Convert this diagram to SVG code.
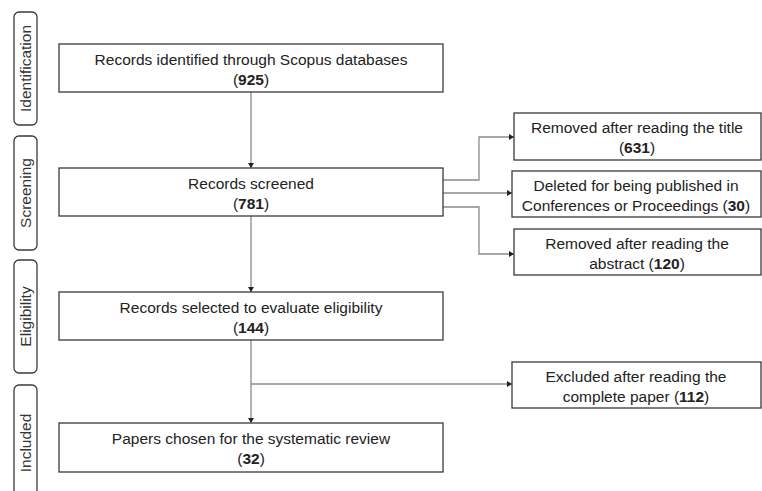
<svg xmlns="http://www.w3.org/2000/svg" width="762" height="491" viewBox="0 0 762 491">
<style>
.box{fill:#fff;stroke:#3a3a3a;stroke-width:1.3}
.side{fill:#fff;stroke:#3a3a3a;stroke-width:1.3}
.t{font-family:"Liberation Sans",Arial,sans-serif;font-size:15.5px;fill:#222;text-anchor:middle}
.st{font-family:"Liberation Sans",Arial,sans-serif;font-size:15.5px;fill:#333;text-anchor:middle}
.c{fill:none;stroke:#8a8a8a;stroke-width:1.3}
</style>
<defs>
<marker id="ah" markerWidth="6" markerHeight="6" refX="5" refY="3" orient="auto" markerUnits="userSpaceOnUse">
<path d="M0,0 L5,3 L0,6 Z" fill="#222"/>
</marker>
</defs>
<g id="phase-identification">
<rect class="side" x="14" y="12" width="23" height="113" rx="5"/>
<text class="st" transform="translate(31,68.5) rotate(-90)">Identification</text>
</g>
<g id="phase-screening">
<rect class="side" x="14" y="136" width="23" height="114" rx="5"/>
<text class="st" transform="translate(31,193) rotate(-90)">Screening</text>
</g>
<g id="phase-eligibility">
<rect class="side" x="14" y="260" width="23" height="113" rx="5"/>
<text class="st" transform="translate(31,316.5) rotate(-90)">Eligibility</text>
</g>
<g id="phase-included">
<rect class="side" x="14" y="385" width="23" height="120" rx="5"/>
<text class="st" transform="translate(31,443) rotate(-90)">Included</text>
</g>
<g id="connectors">
<line class="c" x1="251" y1="92" x2="251" y2="168" marker-end="url(#ah)"/>
<line class="c" x1="251" y1="216" x2="251" y2="292" marker-end="url(#ah)"/>
<line class="c" x1="251" y1="340" x2="251" y2="423" marker-end="url(#ah)"/>
<polyline class="c" points="443,180 479,180 479,137 514,137" marker-end="url(#ah)"/>
<line class="c" x1="443" y1="193" x2="512" y2="193" marker-end="url(#ah)"/>
<polyline class="c" points="443,207 479,207 479,254 514,254" marker-end="url(#ah)"/>
<line class="c" x1="251" y1="384" x2="512" y2="384" marker-end="url(#ah)"/>
</g>
<g id="n-identified">
<rect class="box" x="59" y="44" width="384" height="48"/>
<text class="t" x="251" y="64.5">Records identified through Scopus databases</text>
<text class="t" x="251" y="84.5">(<tspan font-weight="bold">925</tspan>)</text>
</g>
<g id="n-screened">
<rect class="box" x="59" y="168" width="384" height="48"/>
<text class="t" x="251" y="188.5">Records screened</text>
<text class="t" x="251" y="208.5">(<tspan font-weight="bold">781</tspan>)</text>
</g>
<g id="n-eligibility">
<rect class="box" x="59" y="292" width="384" height="48"/>
<text class="t" x="251" y="312.5">Records selected to evaluate eligibility</text>
<text class="t" x="251" y="332.5">(<tspan font-weight="bold">144</tspan>)</text>
</g>
<g id="n-included">
<rect class="box" x="59" y="423" width="384" height="49"/>
<text class="t" x="251" y="443.5">Papers chosen for the systematic review</text>
<text class="t" x="251" y="464">(<tspan font-weight="bold">32</tspan>)</text>
</g>
<g id="n-title">
<rect class="box" x="514" y="113" width="247" height="47"/>
<text class="t" x="637" y="132.5">Removed after reading the title</text>
<text class="t" x="637" y="152.5">(<tspan font-weight="bold">631</tspan>)</text>
</g>
<g id="n-conferences">
<rect class="box" x="512" y="171" width="249" height="46"/>
<text class="t" x="636" y="190.5">Deleted for being published in</text>
<text class="t" x="636" y="210.5">Conferences or Proceedings (<tspan font-weight="bold">30</tspan>)</text>
</g>
<g id="n-abstract">
<rect class="box" x="514" y="229" width="247" height="46"/>
<text class="t" x="637" y="248.5">Removed after reading the</text>
<text class="t" x="637" y="268.5">abstract (<tspan font-weight="bold">120</tspan>)</text>
</g>
<g id="n-excluded">
<rect class="box" x="512" y="362" width="249" height="46"/>
<text class="t" x="636" y="381.5">Excluded after reading the</text>
<text class="t" x="636" y="401.5">complete paper (<tspan font-weight="bold">112</tspan>)</text>
</g>
</svg>
